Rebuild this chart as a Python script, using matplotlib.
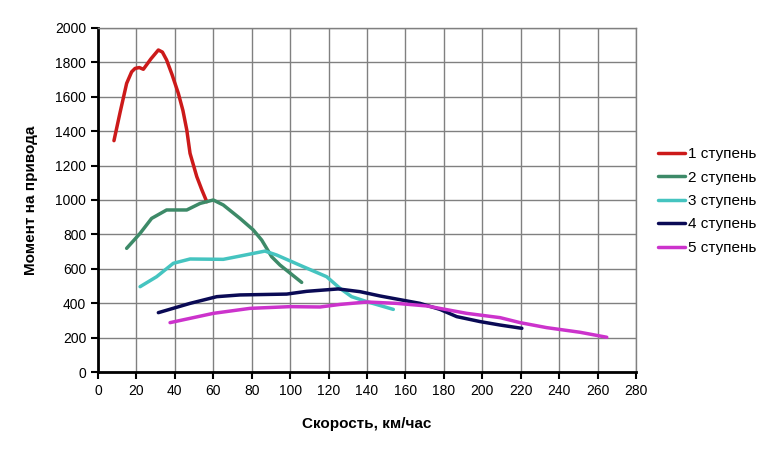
import matplotlib
matplotlib.use("Agg")
import matplotlib.pyplot as plt

plt.rcParams['font.family'] = ['Liberation Sans', 'DejaVu Sans']

# 1 ступень
x1 = [8.3, 11.5, 14.9, 17.5, 19.3, 21.5, 23.6, 27.5, 31.4, 33.5, 35.7, 38.5, 41.8, 44.2, 46.2, 47.9, 51.4, 54.0, 56.6]
y1 = [1345, 1510, 1678, 1745, 1765, 1770, 1760, 1820, 1872, 1860, 1814, 1730, 1620, 1520, 1407, 1271, 1136, 1060, 990]

# 2 ступень
x2 = [14.9, 21.9, 27.9, 35.7, 46.2, 53.1, 60.0, 65.2, 73.9, 80.8, 85.2, 90.4, 94.7, 106.0]
y2 = [719, 806, 893, 942, 942, 980, 1000, 971, 893, 826, 767, 670, 622, 521]

# 3 ступень
x3 = [21.9, 30.5, 39.2, 47.9, 65.2, 73.9, 86.9, 93.0, 106.9, 119.0, 126.0, 132.0, 139.9, 153.7]
y3 = [496, 554, 632, 657, 655, 674, 703, 680, 612, 554, 486, 438, 409, 364]

# 4 ступень
x4 = [31.4, 47.9, 61.8, 73.9, 98.2, 108.6, 125.0, 136.4, 146.8, 167.6, 178.0, 186.7, 198.9, 209.3, 220.6]
y4 = [345, 399, 438, 448, 453, 469, 483, 467, 442, 399, 364, 322, 293, 273, 254]

# 5 ступень
x5 = [37.5, 60.0, 79.1, 99.9, 115.6, 126.0, 139.9, 155.5, 171.1, 191.9, 209.3, 219.7, 233.5, 250.9, 264.8]
y5 = [287, 341, 370, 380, 378, 393, 407, 399, 384, 341, 316, 287, 258, 231, 202]

labels = ['1 ступень', '2 ступень', '3 ступень', '4 ступень', '5 ступень']
colors = ['#cc1a1a', '#3d8a68', '#45c4c0', '#0a0a55', '#cc33cc']

fig = plt.figure(figsize=(7.81, 4.55), dpi=100)
ax = fig.add_axes([0.1255, 0.1824, 0.6888, 0.7561])

for xs, ys, lab, c in zip([x1, x2, x3, x4, x5], [y1, y2, y3, y4, y5], labels, colors):
    ax.plot(xs, ys, color=c, lw=2.5, label=lab, solid_joinstyle='round', solid_capstyle='round')

ax.set_xlim(0, 280)
ax.set_ylim(0, 2000)
ax.set_xticks(range(0, 281, 20))
ax.set_yticks(range(0, 2001, 200))
ax.grid(True, color='#808080', lw=1)
ax.set_axisbelow(True)
ax.tick_params(labelsize=10, length=5, width=1.5, direction='out')

for s in ['top', 'right']:
    ax.spines[s].set_color('#808080')
    ax.spines[s].set_linewidth(1)
for s in ['left', 'bottom']:
    ax.spines[s].set_color('black')
    ax.spines[s].set_linewidth(2)

ax.set_xlabel('Скорость, км/час', fontsize=11, fontweight='bold', labelpad=14)
ax.set_ylabel('Момент на привода', fontsize=11, fontweight='bold', labelpad=12)

ax.legend(loc='center left', bbox_to_anchor=(1.015, 0.497), frameon=False,
          fontsize=11, handlelength=1.8, handletextpad=0.2, labelspacing=0.62)

fig.savefig('out.png', dpi=100)
